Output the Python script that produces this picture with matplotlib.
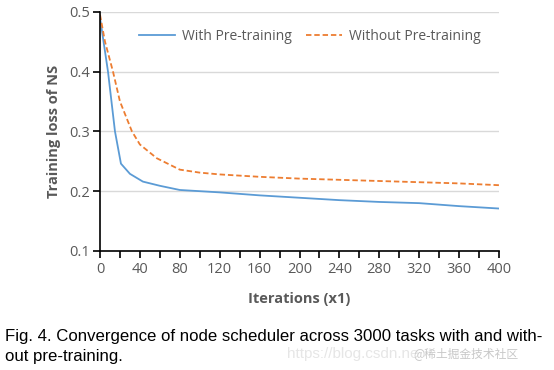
import matplotlib
matplotlib.use("Agg")
import matplotlib.pyplot as plt
from matplotlib.ticker import MultipleLocator

# Data
iters_with = [0, 8, 15, 21, 30, 43, 60, 80, 120, 160, 200, 240, 280, 320, 360, 400]
loss_with = [0.49, 0.40, 0.30, 0.246, 0.229, 0.216, 0.209, 0.202, 0.198, 0.193,
             0.189, 0.185, 0.182, 0.180, 0.175, 0.171]
iters_without = [0, 5, 13, 20, 32, 40, 57, 80, 100, 120, 160, 200, 240, 280, 320, 360, 400]
loss_without = [0.495, 0.45, 0.40, 0.35, 0.30, 0.278, 0.255, 0.236, 0.231, 0.228,
                0.224, 0.221, 0.219, 0.217, 0.215, 0.213, 0.210]
xtick_labels = [0, 40, 80, 120, 160, 200, 240, 280, 320, 360, 400]
ytick_labels = [0.1, 0.2, 0.3, 0.4, 0.5]

gray = "#595959"
fig = plt.figure(figsize=(5.54, 3.70), dpi=100)
ax = fig.add_axes([100/554, 1-251/370, 399/554, (251-11.7)/370])

ax.plot(iters_with, loss_with, color="#5B9BD5", lw=1.3, label="With Pre-training")
ax.plot(iters_without, loss_without, color="#ED7D31", lw=1.3, ls=(0, (3, 1.6)),
        label="Without Pre-training")

ax.set_xlim(0, 400)
ax.set_ylim(0.1, 0.5)
ax.set_xticks(xtick_labels)
ax.xaxis.set_minor_locator(MultipleLocator(20))
ax.set_yticks(ytick_labels)
ax.set_yticklabels(["0.1", "0.2", "0.3", "0.4", "0.5"])
ax.grid(axis="y", color="#D9D9D9", lw=1.0)
ax.set_axisbelow(True)
for s in ["top", "right"]:
    ax.spines[s].set_visible(False)
for s in ["left", "bottom"]:
    ax.spines[s].set_color("black")
    ax.spines[s].set_linewidth(1.2)
ax.tick_params(axis="both", which="both", direction="out", color="black", width=1.2,
               labelcolor=gray, labelsize=10.5)
ax.tick_params(axis="x", which="major", length=5, pad=3)
ax.tick_params(axis="x", which="minor", length=5)
ax.tick_params(axis="y", length=5, pad=2)
for lab in ax.get_xticklabels() + ax.get_yticklabels():
    lab.set_family("Open Sans")

ax.set_xlabel("Iterations (x1)", color=gray, fontsize=10.5, fontweight="bold",
              family="Open Sans", labelpad=11)
ax.set_ylabel("Training loss of NS", color=gray, fontsize=10.5, fontweight="bold",
              family="Open Sans", labelpad=6)

leg = ax.legend(loc="center", bbox_to_anchor=(0.526, 0.895), ncol=2, frameon=False,
                prop={"family": "Open Sans", "size": 10}, handlelength=2.6,
                columnspacing=1.0, handletextpad=0.5)
for t in leg.get_texts():
    t.set_color(gray)

fig.text(5/554, 1-337/370, "Fig. 4. Convergence of node scheduler across 3000 tasks with and with-",
         family="Liberation Sans", fontsize=12.1, color="black", va="center", ha="left")
fig.text(5/554, 1-357/370, "out pre-training.",
         family="Liberation Sans", fontsize=12.1, color="black", va="center", ha="left")
fig.text(287/554, 1-354/370, "https://blog.csdn.ne",
         family="Liberation Sans", fontsize=11, color="#E6E6E6", va="center", ha="left")
fig.text(413/554, 1-354/370, "@稀土掘金技术社区",
         family=["Noto Sans CJK SC", "DejaVu Sans"], fontsize=8.5, color="#C8C8C8",
         va="center", ha="left")

fig.savefig("out.png", dpi=100)
